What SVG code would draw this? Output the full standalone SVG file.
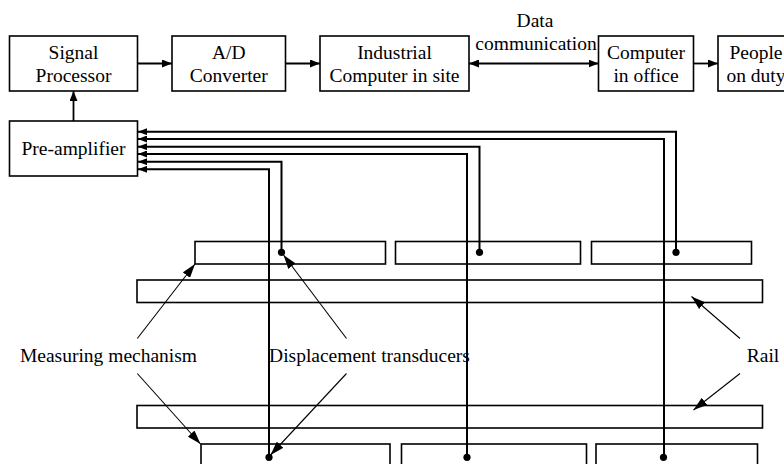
<svg xmlns="http://www.w3.org/2000/svg" width="784" height="464" viewBox="0 0 784 464">
<defs>
<style>
text{font-family:"Liberation Serif","Times New Roman",serif;font-size:19.5px;fill:#000;text-anchor:middle}
.box{fill:none;stroke:#000;stroke-width:1.6}
.wire{fill:none;stroke:#000;stroke-width:2}
.flow{fill:none;stroke:#000;stroke-width:1.8}
.ann{fill:none;stroke:#000;stroke-width:1.1}
.dot{fill:#000}
</style>
<marker id="ah" viewBox="0 0 10 8" refX="10" refY="4" markerWidth="10" markerHeight="8" markerUnits="userSpaceOnUse" orient="auto-start-reverse"><path d="M0,0 L10,4 L0,8 Z" fill="#000"/></marker>
<marker id="wh" viewBox="0 0 9 7" refX="9" refY="3.5" markerWidth="9" markerHeight="7" markerUnits="userSpaceOnUse" orient="auto"><path d="M0,0 L9,3.5 L0,7 Z" fill="#000"/></marker>
<marker id="an" viewBox="0 0 14 9" refX="14" refY="4.5" markerWidth="14" markerHeight="9" markerUnits="userSpaceOnUse" orient="auto"><path d="M0,0 L14,4.5 L0,9 Z" fill="#000"/></marker>
</defs>
<rect width="784" height="464" fill="#fff"/>

<g id="signal-processor"><rect class="box" x="9.5" y="36" width="128" height="55"/><text x="73.5" y="58.5">Signal</text><text x="73.5" y="82">Processor</text></g>
<g id="ad-converter"><rect class="box" x="172" y="36" width="113.5" height="55"/><text x="228.8" y="58.5">A/D</text><text x="228.8" y="82">Converter</text></g>
<g id="industrial-computer"><rect class="box" x="320" y="36" width="149" height="55"/><text x="394.5" y="58.5">Industrial</text><text x="394.5" y="82">Computer in site</text></g>
<g id="computer-office"><rect class="box" x="598.5" y="36" width="95" height="55"/><text x="646" y="58.5">Computer</text><text x="646" y="82">in office</text></g>
<g id="people-duty"><rect class="box" x="718" y="36" width="80" height="55"/><text x="756" y="58.5">People</text><text x="756" y="82">on duty</text></g>
<g id="pre-amplifier"><rect class="box" x="9.5" y="121" width="128" height="55"/><text x="73.5" y="155">Pre-amplifier</text></g>
<g id="data-label"><text x="535" y="26.5">Data</text><text x="536" y="50">communication</text></g>

<g id="measuring-upper">
<rect class="box" x="195" y="241.5" width="190.5" height="22.5"/>
<rect class="box" x="395.5" y="241.5" width="185" height="22.5"/>
<rect class="box" x="591.5" y="241.5" width="160" height="22.5"/>
</g>
<g id="rail-upper"><rect class="box" x="137" y="280" width="625.5" height="22.5"/></g>
<g id="rail-lower"><rect class="box" x="137" y="405.5" width="625.5" height="22.5"/></g>
<g id="measuring-lower">
<rect class="box" x="201" y="444" width="189" height="30"/>
<rect class="box" x="401.5" y="444" width="185" height="30"/>
<rect class="box" x="596" y="444" width="161.5" height="30"/>
</g>

<g id="labels">
<text x="108.5" y="362">Measuring mechanism</text>
<text x="369.5" y="362">Displacement transducers</text>
<text x="763" y="362">Rail</text>
</g>

<g id="connectors">
<path class="flow" marker-end="url(#ah)" d="M73.5,121 V91"/>
<path class="flow" marker-end="url(#ah)" d="M137.5,63.5 H172"/>
<path class="flow" marker-end="url(#ah)" d="M285.5,63.5 H320"/>
<path class="flow" marker-start="url(#ah)" marker-end="url(#ah)" d="M469,63.5 H598.5"/>
<path class="flow" marker-end="url(#ah)" d="M693.5,63.5 H718"/>

<path class="wire" marker-end="url(#wh)" d="M676,252 V131.7 H138"/>
<path class="wire" marker-end="url(#wh)" d="M664,457 V139 H138"/>
<path class="wire" marker-end="url(#wh)" d="M479.5,252 V146.7 H138"/>
<path class="wire" marker-end="url(#wh)" d="M467,457 V154 H138"/>
<path class="wire" marker-end="url(#wh)" d="M281.5,252 V161.7 H138"/>
<path class="wire" marker-end="url(#wh)" d="M269,457 V169.3 H138"/>
<circle class="dot" cx="281.5" cy="252.3" r="3.6"/>
<circle class="dot" cx="479.5" cy="252.3" r="3.6"/>
<circle class="dot" cx="676" cy="252.3" r="3.6"/>
<circle class="dot" cx="269" cy="457.3" r="3.6"/>
<circle class="dot" cx="467" cy="457.3" r="3.6"/>
<circle class="dot" cx="663.5" cy="457.3" r="3.6"/>

<path class="ann" marker-end="url(#an)" d="M137.3,338.5 L195,264"/>
<path class="ann" marker-end="url(#an)" d="M137.3,373.5 L200.5,444"/>
<path class="ann" marker-end="url(#an)" d="M346.5,338.5 L283.5,255"/>
<path class="ann" marker-end="url(#an)" d="M346.5,373.5 L270.5,455"/>
<path class="ann" marker-end="url(#an)" d="M740,338.5 L691.5,296.5"/>
<path class="ann" marker-end="url(#an)" d="M740,373.5 L693.5,410"/>
</g>
</svg>
